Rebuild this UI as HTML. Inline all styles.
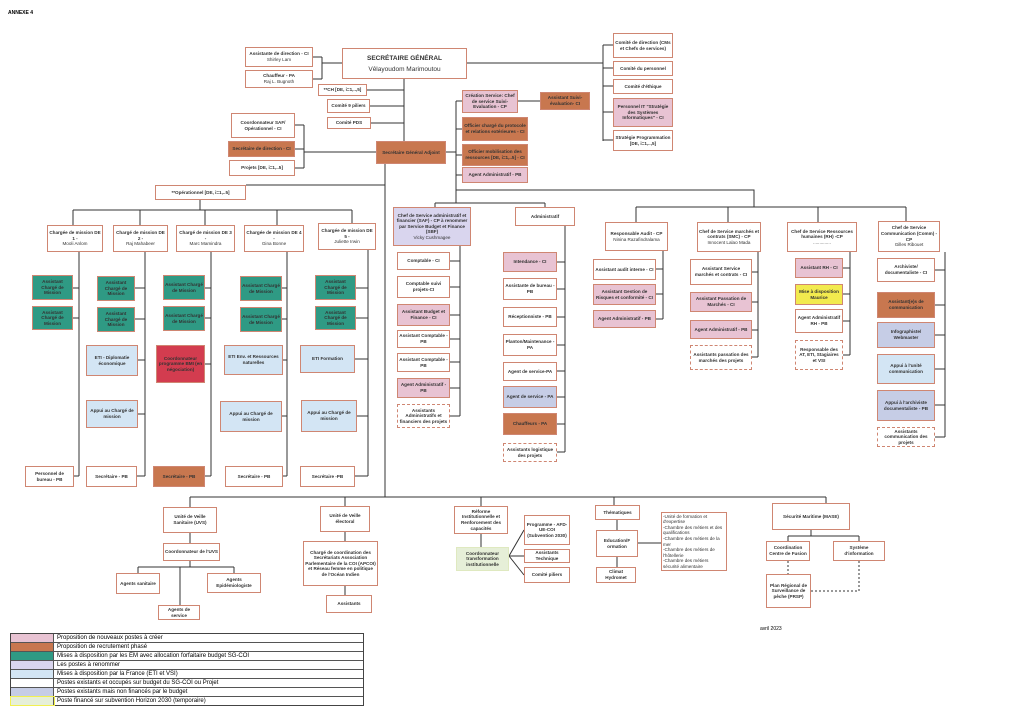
<!DOCTYPE html>
<html><head><meta charset="utf-8"><style>
body{margin:0;width:1024px;height:724px;background:#fff;position:relative;overflow:hidden;font-family:"Liberation Sans",sans-serif}
.b{position:absolute;box-sizing:border-box;border:1.5px solid #cf8672;background:#fff;display:flex;flex-direction:column;align-items:center;justify-content:center;text-align:center;font-size:4.6px;line-height:5.6px;font-weight:bold;color:#333;padding:1px;overflow:hidden}
.pk{background:#e8c3d3}.br{background:#c8774f}.tl{background:#2f9a84}.lb{background:#d3e5f4}.lv{background:#d9d5ee}.bg{background:#c6cde6}.rd{background:#d33c4f}.yl{background:#f2ea4e}.gr{background:#e6efd8;border-color:#dfe9c0}
.d{border:1.2px dashed #cf8672}
.n{font-weight:normal}
svg{position:absolute;left:0;top:0}
.lg{position:absolute;left:10px;top:633px;width:352px;border:1px solid #444;font-size:6px}
.lg div{height:8px;border-bottom:1px solid #555;display:flex;align-items:center;line-height:8px}
.lg span{display:inline-block;width:42px;height:8px;border-right:1px solid #555;margin-right:3px}
</style></head><body>
<div style="position:absolute;left:8px;top:10px;font-size:5px;font-weight:bold">ANNEXE 4</div>
<svg width="1024" height="724" stroke="#333" stroke-width="1" fill="none">
<path d="M313 57H322M313 79H322M322 57V79M322 63H342M404 79V141M367 90H404M370 106H404M371 123H404"/>
<path d="M467 63H603M603 45V141M603 45H613M603 68H613M603 86H613M603 112H613M603 140H613"/>
<path d="M295 125H304M295 149H304M295 168H304M304 125V168M304 152H376"/>
<path d="M446 152H456M456 101V190M456 101H462M456 129H462M456 155H462M456 175H462M518 101H540"/>
<path d="M456 190H754V207M636 207H906M636 207V222M728 207V222M818 207V222M906 207V221"/>
<path d="M456 190V203M435 203H545M435 203V207M545 203V207"/>
<path d="M385 164V497M385 185H246M190 497H826M190 497V507M345 497V506M481 497V506M614 497V505M826 497V503"/>
<path d="M200 200V210M73 210H352M73 210V225M140 210V225M205 210V225M277 210V225M352 210V225"/>
<path d="M79 252V476M73 288H79M73 318H79M74 476H79"/>
<path d="M145 252V476M135 288H145M135 319H145M138 360H145M138 414H145M137 476H145"/>
<path d="M211 252V476M205 288H211M205 318H211M205 364H211M205 476H211"/>
<path d="M287 252V476M282 288H287M282 319H287M283 360H287M282 416H287M283 476H287"/>
<path d="M368 250V476M356 288H368M356 318H368M355 359H368M357 416H368M355 476H368"/>
<path d="M460 246V416M450 261H460M450 287H460M450 315H460M450 339H460M450 362H460M450 388H460M450 416H460"/>
<path d="M565 226V452M557 262H565M557 289H565M557 317H565M557 345H565M557 371H565M557 397H565M557 424H565M557 452H565"/>
<path d="M663 251V319M656 269H663M656 294H663M656 319H663"/>
<path d="M758 252V357M752 272H758M752 302H758M752 330H758M752 357H758"/>
<path d="M850 252V355M843 268H850M843 294H850M843 321H850M843 355H850"/>
<path d="M945 252V437M935 270H945M935 305H945M935 335H945M935 369H945M935 405H945M935 437H945"/>
<path d="M190 533V543M190 561V567M138 567H234M138 567V573M234 567V573M180 567V605"/>
<path d="M345 532V541M345 586V595M481 534V547M509 556L524 530M509 556H524M509 556L524 575"/>
<path d="M617 520V530M617 557V567M638 543H661M811 530V536M788 536H859M788 536V541M859 536V541"/>
<path stroke-dasharray="2,2" d="M788 561V574M859 561V591H811"/>
</svg>
<div class="b" style="left:245px;top:47px;width:68px;height:20px">Assistante de direction - CI<span class="n">Shirley Lam</span></div>
<div class="b" style="left:245px;top:70px;width:68px;height:18px">Chauffeur - PA<span class="n">Raj L. Bugnoth</span></div>
<div class="b" style="left:342px;top:48px;width:125px;height:31px;font-size:6.5px;line-height:11px">SECRÉTAIRE GÉNÉRAL<span class="n">Vêlayoudom Marimoutou</span></div>
<div class="b" style="left:318px;top:84px;width:49px;height:12px">**CH [DE, i=1,..,5]</div>
<div class="b" style="left:327px;top:99px;width:43px;height:14px">Comité 9 piliers</div>
<div class="b" style="left:327px;top:117px;width:44px;height:12px">Comité PDS</div>
<div class="b" style="left:613px;top:33px;width:60px;height:25px">Comité de direction (CMs et Chefs de services)</div>
<div class="b" style="left:613px;top:61px;width:60px;height:15px">Comité du personnel</div>
<div class="b" style="left:613px;top:79px;width:60px;height:15px">Comité d'éthique</div>
<div class="b pk" style="left:613px;top:98px;width:60px;height:29px">Personnel IT "Stratégie des Systèmes Informatiques" - CI</div>
<div class="b" style="left:613px;top:130px;width:60px;height:21px">Stratégie Programmation [DE, i=1,..,5]</div>
<div class="b pk" style="left:462px;top:90px;width:56px;height:23px">Création Service: Chef de service Suivi-Evaluation - CP</div>
<div class="b br" style="left:540px;top:92px;width:50px;height:18px">Assistant Suivi-évaluation- CI</div>
<div class="b br" style="left:462px;top:117px;width:66px;height:24px">Officier chargé du protocole et relations extérieures - CI</div>
<div class="b br" style="left:462px;top:144px;width:66px;height:22px">Officier mobilisation des ressources [DE, i=1,..5] - CI</div>
<div class="b pk" style="left:462px;top:167px;width:66px;height:16px">Agent Administratif - PB</div>
<div class="b br" style="left:376px;top:141px;width:70px;height:23px">Secrétaire Général Adjoint</div>
<div class="b" style="left:231px;top:113px;width:64px;height:25px">Coordonnateur SAF/ Opérationnel - CI</div>
<div class="b br" style="left:228px;top:141px;width:67px;height:16px">Secrétaire de direction - CI</div>
<div class="b" style="left:229px;top:160px;width:66px;height:16px">Projets [DE, i=1,..5]</div>
<div class="b" style="left:155px;top:185px;width:91px;height:15px">**Opérationnel [DE, i=1,..5]</div>
<div class="b" style="left:47px;top:225px;width:56px;height:27px">Chargée de mission DE 1 -<span class="n">Mooli Anlom</span></div>
<div class="b" style="left:113px;top:225px;width:55px;height:27px">Chargé de mission DE 2 -<span class="n">Raj Mahabeer</span></div>
<div class="b" style="left:176px;top:225px;width:59px;height:27px">Chargé de mission DE 3 -<span class="n">Marc Mamindra</span></div>
<div class="b" style="left:244px;top:225px;width:60px;height:27px">Chargée de mission DE 4 -<span class="n">Gina Bonne</span></div>
<div class="b" style="left:318px;top:223px;width:58px;height:27px">Chargée de mission DE 5 -<span class="n">Juliette Irwin</span></div>
<div class="b tl" style="left:32px;top:275px;width:41px;height:25px">Assistant Chargé de Mission</div>
<div class="b tl" style="left:32px;top:306px;width:41px;height:24px">Assistant Chargé de Mission</div>
<div class="b tl" style="left:97px;top:276px;width:38px;height:25px">Assistant Chargé de Mission</div>
<div class="b tl" style="left:97px;top:307px;width:38px;height:25px">Assistant Chargé de Mission</div>
<div class="b tl" style="left:163px;top:275px;width:42px;height:25px">Assistant Chargé de Mission</div>
<div class="b tl" style="left:163px;top:306px;width:42px;height:25px">Assistant Chargé de Mission</div>
<div class="b tl" style="left:240px;top:276px;width:42px;height:25px">Assistant Chargé de Mission</div>
<div class="b tl" style="left:240px;top:307px;width:42px;height:25px">Assistant Chargé de Mission</div>
<div class="b tl" style="left:315px;top:275px;width:41px;height:25px">Assistant Chargé de Mission</div>
<div class="b tl" style="left:315px;top:306px;width:41px;height:24px">Assistant Chargé de Mission</div>
<div class="b lb" style="left:86px;top:345px;width:52px;height:31px">ETI - Diplomatie économique</div>
<div class="b rd" style="left:156px;top:345px;width:49px;height:38px">Coordonnateur programme BMI (en négociation)</div>
<div class="b lb" style="left:224px;top:345px;width:59px;height:30px">ETI Env. et Ressources naturelles</div>
<div class="b lb" style="left:300px;top:345px;width:55px;height:28px">ETI Formation</div>
<div class="b lb" style="left:86px;top:400px;width:52px;height:28px">Appui au Chargé de mission</div>
<div class="b lb" style="left:220px;top:401px;width:62px;height:31px">Appui au Chargé de mission</div>
<div class="b lb" style="left:301px;top:400px;width:56px;height:32px">Appui au Chargé de mission</div>
<div class="b" style="left:25px;top:466px;width:49px;height:21px">Personnel de bureau - PB</div>
<div class="b" style="left:86px;top:466px;width:51px;height:21px">Secrétaire - PB</div>
<div class="b br" style="left:153px;top:466px;width:52px;height:21px">Secrétaire - PB</div>
<div class="b" style="left:225px;top:466px;width:58px;height:21px">Secrétaire - PB</div>
<div class="b" style="left:300px;top:466px;width:55px;height:21px">Secrétaire -PB</div>
<div class="b lv" style="left:393px;top:207px;width:78px;height:39px">Chef de Service administratif et financier (SAF) - CP à renommer par Service Budget et Finance (SBF)<span class="n">Vicky Cushmagee</span></div>
<div class="b" style="left:515px;top:207px;width:60px;height:19px">Administratif</div>
<div class="b" style="left:397px;top:252px;width:53px;height:18px">Comptable - CI</div>
<div class="b" style="left:397px;top:276px;width:53px;height:22px">Comptable suivi projets-CI</div>
<div class="b pk" style="left:397px;top:304px;width:53px;height:22px">Assistant Budget et Finance - CI</div>
<div class="b" style="left:397px;top:330px;width:53px;height:18px">Assistant Comptable - PB</div>
<div class="b" style="left:397px;top:353px;width:53px;height:19px">Assistant Comptable - PB</div>
<div class="b pk" style="left:397px;top:378px;width:53px;height:20px">Agent Administratif - PB</div>
<div class="b d" style="left:397px;top:404px;width:53px;height:24px">Assistants Administratifs et financiers des projets</div>
<div class="b pk" style="left:503px;top:252px;width:54px;height:20px">Intendance - CI</div>
<div class="b" style="left:503px;top:278px;width:54px;height:22px">Assistante de bureau - PB</div>
<div class="b" style="left:503px;top:307px;width:54px;height:20px">Réceptionniste - PB</div>
<div class="b" style="left:503px;top:334px;width:54px;height:22px">Planton/Maintenance - PA</div>
<div class="b" style="left:503px;top:362px;width:54px;height:19px">Agent de service-PA</div>
<div class="b bg" style="left:503px;top:386px;width:54px;height:22px">Agent de service - PA</div>
<div class="b br" style="left:503px;top:413px;width:54px;height:22px">Chauffeurs - PA</div>
<div class="b d" style="left:503px;top:443px;width:54px;height:19px">Assistants logistique des projets</div>
<div class="b" style="left:605px;top:222px;width:63px;height:29px">Responsable Audit - CP<span class="n">Ninina Razafindralama</span></div>
<div class="b" style="left:593px;top:259px;width:63px;height:21px">Assistant audit interne - CI</div>
<div class="b pk" style="left:593px;top:284px;width:63px;height:21px">Assistant Gestion de Risques et conformité - CI</div>
<div class="b pk" style="left:593px;top:310px;width:63px;height:18px">Agent Administratif - PB</div>
<div class="b" style="left:697px;top:222px;width:64px;height:30px">Chef de Service marchés et contrats (SMC) - CP<span class="n">Innocent Lalao Mada</span></div>
<div class="b" style="left:690px;top:259px;width:62px;height:26px">Assistant Service marchés et contrats - CI</div>
<div class="b pk" style="left:690px;top:292px;width:62px;height:20px">Assistant Passation de Marchés - CI</div>
<div class="b pk" style="left:690px;top:320px;width:62px;height:19px">Agent Administratif - PB</div>
<div class="b d" style="left:690px;top:345px;width:62px;height:25px">Assistants passation des marchés des projets</div>
<div class="b" style="left:787px;top:222px;width:70px;height:30px">Chef de Service Ressources humaines (RH) -CP<span class="n">..............</span></div>
<div class="b pk" style="left:795px;top:258px;width:48px;height:20px">Assistant RH - CI</div>
<div class="b yl" style="left:795px;top:284px;width:48px;height:21px">Mise à disposition Maurice</div>
<div class="b" style="left:795px;top:309px;width:48px;height:24px">Agent Administratif RH - PB</div>
<div class="b d" style="left:795px;top:340px;width:48px;height:30px">Responsable des AT, ETI, Stagiaires et VSI</div>
<div class="b" style="left:878px;top:221px;width:62px;height:31px">Chef de Service Communication (Comm) - CP<span class="n">Gilles Ribouet</span></div>
<div class="b" style="left:877px;top:258px;width:58px;height:24px">Archiviste/ documentaliste - CI</div>
<div class="b br" style="left:877px;top:292px;width:58px;height:26px">Assistant(e)s de communication</div>
<div class="b bg" style="left:877px;top:322px;width:58px;height:26px">Infographiste/ Webmaster</div>
<div class="b lb" style="left:877px;top:354px;width:58px;height:30px">Appui à l'unité communication</div>
<div class="b bg" style="left:877px;top:390px;width:58px;height:31px">Appui à l'archiviste documentaliste - PB</div>
<div class="b d" style="left:877px;top:427px;width:58px;height:20px">Assistants communication des projets</div>
<div class="b" style="left:163px;top:507px;width:54px;height:26px">Unité de Veille Sanitaire (UVS)</div>
<div class="b" style="left:163px;top:543px;width:57px;height:18px">Coordonnateur de l'UVS</div>
<div class="b" style="left:116px;top:573px;width:44px;height:21px">Agents sanitaire</div>
<div class="b" style="left:207px;top:573px;width:54px;height:20px">Agents Epidémiologiste</div>
<div class="b" style="left:158px;top:605px;width:42px;height:15px">Agents de service</div>
<div class="b" style="left:320px;top:506px;width:50px;height:26px">Unité de Veille électoral</div>
<div class="b" style="left:303px;top:541px;width:75px;height:45px">Chargé de coordination des Secrétariats Association Parlementaire de la COI (APCOI) et Réseau femme en politique de l'Océan Indien</div>
<div class="b" style="left:326px;top:595px;width:46px;height:18px">Assistants</div>
<div class="b" style="left:454px;top:506px;width:54px;height:28px">Réforme Institutionnelle et Renforcement des capacités</div>
<div class="b gr" style="left:456px;top:547px;width:53px;height:24px">Coordonnateur transformation institutionnelle</div>
<div class="b" style="left:524px;top:515px;width:46px;height:30px">Programme - AFD-UE-COI (Subvention 2030)</div>
<div class="b" style="left:524px;top:549px;width:46px;height:14px">Assistants Technique</div>
<div class="b" style="left:524px;top:567px;width:46px;height:16px">Comité piliers</div>
<div class="b" style="left:595px;top:505px;width:45px;height:15px">Thématiques</div>
<div class="b" style="left:596px;top:530px;width:42px;height:27px">Education/F ormation</div>
<div class="b" style="left:596px;top:567px;width:40px;height:16px">Climat Hydromet</div>
<div class="b n" style="left:661px;top:512px;width:66px;height:59px;text-align:left;align-items:flex-start;font-weight:normal">-Unité de formation et d'expertise<br>-Chambre des métiers et des qualifications<br>-Chambre des métiers de la mer<br>-Chambre des métiers de l'hôtellerie<br>-Chambre des métiers sécurité alimentaire</div>
<div class="b" style="left:772px;top:503px;width:78px;height:27px">Sécurité Maritime (MASE)</div>
<div class="b" style="left:766px;top:541px;width:44px;height:20px">Coordination Centre de Fusion</div>
<div class="b" style="left:833px;top:541px;width:52px;height:20px">Système d'information</div>
<div class="b" style="left:766px;top:574px;width:45px;height:34px">Plan Régional de Surveillance de pêche (PRSP)</div>
<div style="position:absolute;left:760px;top:626px;font-size:5px">avril 2023</div>
<div class="lg">
<div><span style="background:#e8c3d3"></span>Proposition de nouveaux postes à créer</div>
<div><span style="background:#c8774f"></span>Proposition de recrutement phasé</div>
<div><span style="background:#2f9a84"></span>Mises à disposition par les EM avec allocation forfaitaire budget SG-COI</div>
<div><span style="background:#d9d5ee"></span>Les postes à renommer</div>
<div><span style="background:#d3e5f4"></span>Mises à disposition par la France (ETI et VSI)</div>
<div><span style="background:#fff"></span>Postes existants et occupés sur budget du SG-COI ou Projet</div>
<div><span style="background:#c6cde6"></span>Postes existants mais non financés par le budget</div>
<div style="border-bottom:none"><span style="background:#e6efd8;outline:1px solid #f2f050"></span>Poste financé sur subvention Horizon 2030 (temporaire)</div>
</div>
</body></html>
